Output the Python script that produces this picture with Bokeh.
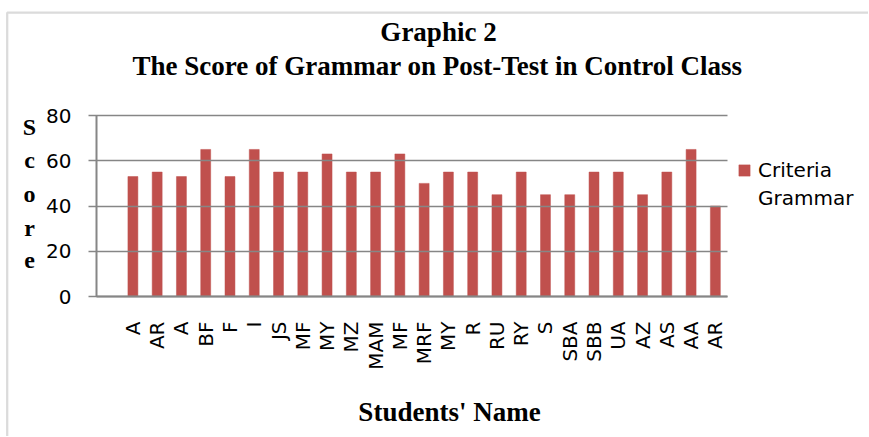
import math
from bokeh.plotting import figure
from bokeh.models import Range1d, FixedTicker, Label, Legend, LegendItem, BoxAnnotation
from bokeh.embed import file_html
from bokeh.resources import INLINE

# ---- data ----
students = ["A", "AR", "A", "BF", "F", "I", "JS", "MF", "MY", "MZ", "MAM", "MF", "MRF",
            "MY", "R", "RU", "RY", "S", "SBA", "SBB", "UA", "AZ", "AS", "AA", "AR"]
scores = [53, 55, 53, 65, 53, 65, 55, 55, 63, 55, 55, 63, 50,
          55, 55, 45, 55, 45, 45, 55, 55, 45, 55, 65, 40]
y_ticks = [0, 20, 40, 60, 80]
legend_lines = ["Criteria", "Grammar"]
title1 = "Graphic 2"
title2 = "The Score of Grammar on Post-Test in Control Class"
x_title = "Students' Name"
y_title = "Score"

# ---- layout (pixels of the picture) ----
W, H = 868, 436
FL, FR, FT, FB = 96, 727, 115, 296   # plotting area of the bars
YMAX = 80
XMAX = 2 * (len(students) + 1)
positions = [2 * i + 3 for i in range(len(students))]

def px2x(px):
    return (px - FL) / (FR - FL) * XMAX

def py2y(py):
    return (FB - py) / (FB - FT) * YMAX

GRAY = "#868686"
RED = "#C0504D"
SANS = "DejaVu Sans"
SERIF = "Liberation Serif"

p = figure(width=W, height=H, output_backend="svg", toolbar_location=None,
           x_range=Range1d(px2x(0), px2x(W)), y_range=Range1d(py2y(H), py2y(0)),
           min_border=0, min_border_left=0, min_border_right=0,
           min_border_top=0, min_border_bottom=0)

r = p.vbar(x=positions, top=scores, width=0.82, fill_color=RED, line_color=RED, line_alpha=0.5)
r_blank = p.vbar(x=[], top=[], width=0.82, fill_alpha=0, line_alpha=0)

p.outline_line_color = None
p.xgrid.visible = False
p.ygrid.visible = False

ya = p.yaxis[0]
ya.fixed_location = 0
ya.bounds = (0, YMAX)
ya.ticker = FixedTicker(ticks=y_ticks)
ya.major_tick_out = 8
ya.major_tick_in = FR - FL          # ticks run across the plot as gridlines
ya.minor_tick_line_color = None
ya.axis_line_color = GRAY
ya.axis_line_width = 2
ya.major_tick_line_color = GRAY
ya.major_tick_line_width = 1.5
ya.major_label_text_font = SANS
ya.major_label_text_font_size = "20px"
ya.major_label_text_color = "black"
ya.major_label_standoff = 17

xa = p.xaxis[0]
xa.fixed_location = 0
xa.bounds = (0, XMAX)
xa.ticker = FixedTicker(ticks=positions)
xa.major_label_overrides = {pos: name for pos, name in zip(positions, students)}
xa.major_label_orientation = math.pi / 2
xa.major_tick_out = 0
xa.major_tick_in = 0
xa.minor_tick_line_color = None
xa.axis_line_color = GRAY
xa.axis_line_width = 2
xa.major_label_text_font = SANS
xa.major_label_text_font_size = "20px"
xa.major_label_text_color = "black"
xa.major_label_standoff = 25

# chart border (top and left edges visible)
p.add_layout(BoxAnnotation(left=px2x(6.7), top=py2y(12.2), right=px2x(W + 50), bottom=py2y(H + 50),
                           fill_alpha=0, line_color="#878787", line_width=2.3, level="underlay"))

SHIFT = 8  # rendered baseline sits lower than requested

def add_label(px, py, text, font, size, bold=False, align="center"):
    p.add_layout(Label(x=px2x(px), y=py2y(py - SHIFT), text=text, text_font=font, text_font_size=size,
                       text_font_style="bold" if bold else "normal",
                       text_align=align, text_baseline="alphabetic", text_color="black"))

add_label(438, 39, title1, SERIF, "27px", bold=True)
add_label(437, 73, title2, SERIF, "27px", bold=True)
add_label(449, 419, x_title, SERIF, "27px", bold=True)
for ch, base in zip(y_title, [134, 167, 201, 235, 268]):
    add_label(29, base, ch, SERIF, "24px", bold=True)

legend = Legend(items=[LegendItem(label=legend_lines[0], renderers=[r]),
                       LegendItem(label=legend_lines[1], renderers=[r_blank])],
                location=(737, H - 212), glyph_width=14, glyph_height=14,
                label_standoff=7, padding=0, margin=0, spacing=0, label_height=28,
                border_line_color=None, background_fill_alpha=0,
                label_text_font=SANS, label_text_font_size="20px", label_text_color="black")
p.add_layout(legend)

open("out.html", "w").write(file_html(p, INLINE))
